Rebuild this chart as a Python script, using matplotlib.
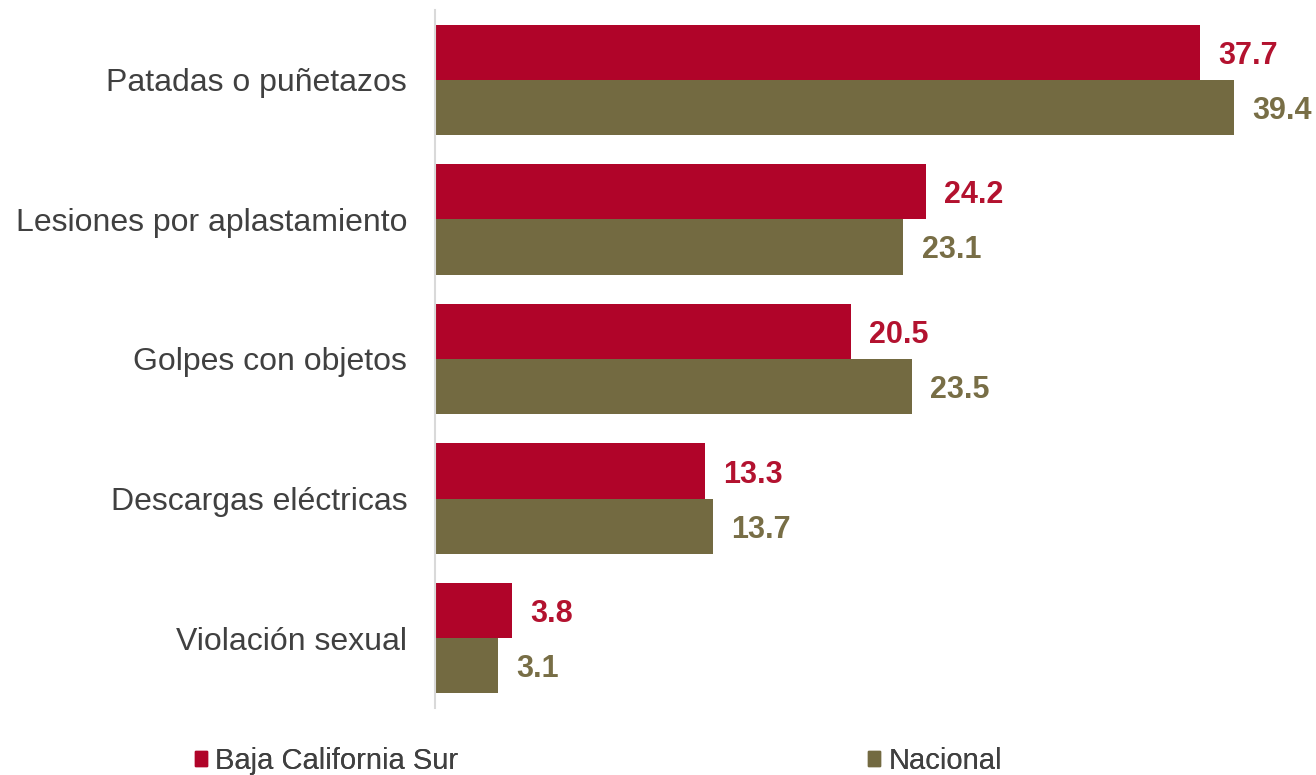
import matplotlib
matplotlib.use("Agg")
import matplotlib.pyplot as plt
from matplotlib.patches import Patch
import numpy as np

plt.rcParams['font.family'] = ['Liberation Sans', 'DejaVu Sans']

categories = ["Patadas o puñetazos", "Lesiones por aplastamiento", "Golpes con objetos",
              "Descargas eléctricas", "Violación sexual"]
bcs = [37.7, 24.2, 20.5, 13.3, 3.8]
nacional = [39.4, 23.1, 23.5, 13.7, 3.1]
series_names = ["Baja California Sur", "Nacional"]

red = "#B00429"
olive = "#736A41"
red_txt = "#B3122F"
olive_txt = "#786E46"

fig = plt.figure(figsize=(13.16, 7.75), dpi=100)
ax = fig.add_axes([435/1316, 1 - 708/775, 1 - 435/1316, 698/775])

y = np.arange(len(categories))
h = 0.395
ax.barh(y - h/2, bcs, height=h, color=red)
ax.barh(y + h/2, nacional, height=h, color=olive)

for yi, v in zip(y, bcs):
    ax.text(v + 0.9, yi - h/2, f"{v:.1f}", va="center_baseline", ha="left", fontsize=22,
            fontweight="bold", color=red_txt)
for yi, v in zip(y, nacional):
    ax.text(v + 0.9, yi + h/2, f"{v:.1f}", va="center_baseline", ha="left", fontsize=22,
            fontweight="bold", color=olive_txt)

ax.set_ylim(len(categories) - 0.5, -0.5)
ax.set_xlim(0, 881/20.28)
ax.set_yticks(y)
ax.set_yticklabels(categories, fontsize=23, color="#404040")
ax.tick_params(axis="y", length=0, pad=20)
ax.set_xticks([])
for s in ["top", "right", "bottom"]:
    ax.spines[s].set_visible(False)
ax.spines["left"].set_color("#D9D9D9")
ax.spines["left"].set_linewidth(1.5)

legend_colors = [red, olive]
legend_x = [195/1316, 868/1316]
for name, c, lx in zip(series_names, legend_colors, legend_x):
    leg = fig.legend(handles=[Patch(color=c, label=name)], loc="center left",
                     bbox_to_anchor=(lx, 1 - 761/775), frameon=False, fontsize=21,
                     handlelength=0.4, handleheight=0.4, handletextpad=0.3,
                     borderpad=0, borderaxespad=0, labelcolor="#404040")
    fig.add_artist(leg)

fig.savefig("out.png", dpi=100)
